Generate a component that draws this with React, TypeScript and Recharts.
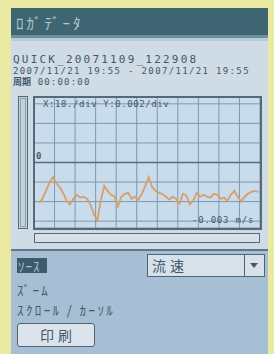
import { CartesianGrid, Line, LineChart, ReferenceLine, XAxis, YAxis } from "recharts";

// flow velocity samples (m/s), one every 3 s
const flowValues = [
  -0.0041, -0.0037, -0.0029, -0.0021, -0.0015, -0.0021, -0.0025, -0.0031, -0.0039, -0.0043,
  -0.0037, -0.0033, -0.0036, -0.0035, -0.0037, -0.0043, -0.0053, -0.0059, -0.0039, -0.0024,
  -0.0029, -0.0033, -0.0035, -0.0045, -0.0035, -0.0032, -0.0031, -0.0037, -0.0035, -0.0038,
  -0.0032, -0.0024, -0.0015, -0.0025, -0.0029, -0.0031, -0.0032, -0.0035, -0.0038, -0.0035,
  -0.0037, -0.0042, -0.0032, -0.0034, -0.0043, -0.0039, -0.0031, -0.0035, -0.0033, -0.0035,
  -0.0036, -0.0032, -0.0033, -0.0037, -0.0036, -0.0039, -0.0033, -0.0029, -0.0035, -0.004,
  -0.0035, -0.0032, -0.003, -0.0029, -0.003,
];
const startTime = 4.5;
const sampleStep = 3;
const xTicks = [0, 18, 36, 54, 72, 90, 108, 126, 144, 162, 180, 198];
const yTicks = [-0.006, -0.004, -0.002, 0, 0.002, 0.004, 0.006];

const data = flowValues.map((v, i) => ({ t: startTime + i * sampleStep, v }));

const mono = "'DejaVu Sans Mono', monospace";
const jp = "'Noto Sans CJK JP', sans-serif";
const ink = "#44586a";

function Abs({ style, children }: { style: React.CSSProperties; children?: React.ReactNode }) {
  return <div style={{ position: "absolute", ...style }}>{children}</div>;
}

export default function App() {
  return (
    <div style={{ position: "absolute", left: 0, top: 0, width: 274, height: 354, background: "#e9e9a2", overflow: "hidden" }}>
      {/* screen */}
      <Abs style={{ left: 11, top: 8, width: 257, height: 344, background: "#cfdbe5" }} />
      {/* title bar */}
      <Abs style={{ left: 11, top: 8, width: 257, height: 27, background: "#3e6571" }} />
      <Abs style={{ left: 11, top: 35, width: 257, height: 3, background: "#6b929c" }} />
      <Abs style={{ left: 11, top: 38, width: 257, height: 3, background: "#b9cbd4" }} />
      <Abs style={{ left: 16, top: 12, fontFamily: jp, fontSize: 15, color: "#b3c9d1", letterSpacing: 3 }}>ﾛｶﾞﾃﾞｰﾀ</Abs>

      {/* file info */}
      <Abs style={{ left: 13, top: 53, fontFamily: mono, fontSize: 11, color: ink, letterSpacing: 2.2, whiteSpace: "nowrap" }}>
        QUICK_20071109_122908
      </Abs>
      <Abs style={{ left: 13, top: 66, fontFamily: mono, fontSize: 9, color: ink, letterSpacing: 1.35, whiteSpace: "nowrap" }}>
        2007/11/21 19:55 - 2007/11/21 19:55
      </Abs>
      <Abs style={{ left: 13, top: 77, fontFamily: jp, fontSize: 9, color: ink, whiteSpace: "nowrap", lineHeight: "10px" }}>
        <b>周期</b>
        <span style={{ fontFamily: mono, letterSpacing: 1.2 }}> 00:00:00</span>
      </Abs>

      {/* left level bar */}
      <Abs style={{ left: 18, top: 96, width: 8, height: 131, border: "1px solid #55697a", background: "#c3d3de" }} />
      <Abs style={{ left: 20, top: 98, width: 4, height: 127, border: "1px solid #8ba0b0" }} />

      {/* plot */}
      <Abs style={{ left: 34, top: 97, width: 226, height: 131, background: "#c9dcec" }}>
        <LineChart width={226} height={131} data={data} margin={{ top: 0, right: 0, bottom: 0, left: 0 }}>
          <CartesianGrid stroke="#7f98ab" strokeWidth={1} />
          <XAxis type="number" dataKey="t" domain={[0, 198]} ticks={xTicks} interval={0} hide />
          <YAxis type="number" domain={[-0.0067, 0.0067]} ticks={yTicks} interval={0} hide />
          <ReferenceLine y={0} stroke="#566d7e" strokeWidth={1.6} />
          <Line
            type="linear"
            dataKey="v"
            stroke="#d99f68"
            strokeWidth={1.8}
            dot={false}
            isAnimationActive={false}
          />
        </LineChart>
      </Abs>
      <Abs style={{ left: 33, top: 96, width: 225, height: 130, border: "2px solid #55697a" }} />
      <Abs style={{ left: 43, top: 99, fontFamily: mono, fontSize: 9, color: ink, letterSpacing: 0.6, whiteSpace: "nowrap" }}>
        X:18./div Y:0.002/div
      </Abs>
      <Abs style={{ left: 36, top: 151, fontFamily: mono, fontSize: 9, color: ink, fontWeight: "bold" }}>0</Abs>
      <Abs style={{ left: 192, top: 215, fontFamily: mono, fontSize: 9, color: ink, letterSpacing: 0.8, whiteSpace: "nowrap" }}>
        -0.003 m/s
      </Abs>

      {/* scrollbar */}
      <Abs style={{ left: 34, top: 233, width: 224, height: 8, border: "1px solid #55697a", background: "#d5e0e8" }} />

      {/* bottom panel */}
      <Abs style={{ left: 11, top: 249, width: 257, height: 103, background: "#a6bfd4", borderTop: "2px solid #5f7789" }} />
      <Abs style={{ left: 17, top: 258, width: 30, height: 15, background: "#3d5a6b" }} />
      <Abs style={{ left: 18, top: 256, fontFamily: jp, fontSize: 13, color: "#a9c2d2", letterSpacing: 1, whiteSpace: "nowrap" }}>ｿｰｽ</Abs>
      <Abs style={{ left: 17, top: 280, fontFamily: jp, fontSize: 13, color: ink, letterSpacing: 2.4, whiteSpace: "nowrap" }}>ｽﾞｰﾑ</Abs>
      <Abs style={{ left: 17, top: 300, fontFamily: jp, fontSize: 13, color: ink, letterSpacing: 2.4, whiteSpace: "nowrap" }}>ｽｸﾛｰﾙ / ｶｰｿﾙ</Abs>

      {/* dropdown */}
      <Abs style={{ left: 147, top: 254, width: 116, height: 21, border: "1px solid #4f6576", background: "#d6e1e9" }} />
      <Abs style={{ left: 244, top: 255, width: 1, height: 21, background: "#4f6576" }} />
      <Abs style={{ left: 152, top: 255, fontFamily: jp, fontSize: 14, color: ink, letterSpacing: 4, whiteSpace: "nowrap" }}>流速</Abs>
      <Abs style={{ left: 250, top: 263, width: 0, height: 0, borderLeft: "4px solid transparent", borderRight: "4px solid transparent", borderTop: "5px solid #44586a" }} />

      {/* print button */}
      <Abs style={{ left: 17, top: 323, width: 76, height: 22, border: "1px solid #4f6576", borderRadius: 3, background: "#dbe4ec" }} />
      <Abs style={{ left: 40, top: 325, fontFamily: jp, fontSize: 14, color: ink, letterSpacing: 4, whiteSpace: "nowrap" }}>印刷</Abs>
    </div>
  );
}
